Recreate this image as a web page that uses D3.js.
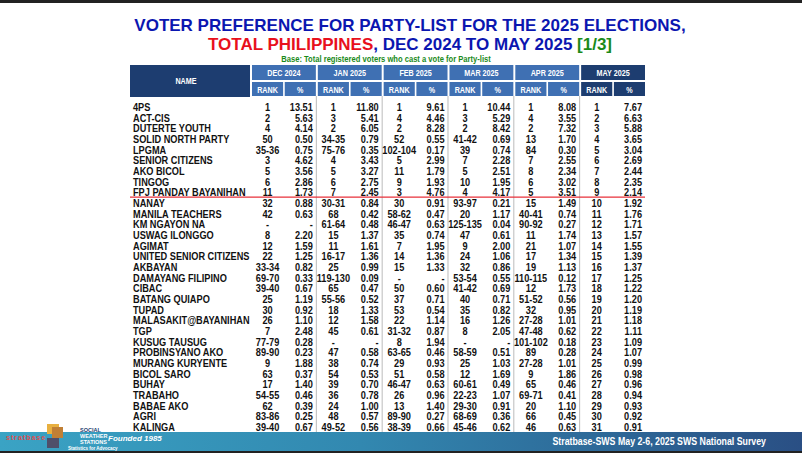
<!DOCTYPE html>
<html><head><meta charset="utf-8">
<script src="https://cdn.jsdelivr.net/npm/d3@7"></script>
<style>
body{margin:0;background:#fff;}
text{font-family:"Liberation Sans Narrow","Arial Narrow","Liberation Sans",sans-serif;font-weight:bold;}
</style></head>
<body><svg width="802" height="453"></svg>
<script>
const names = ["4PS","ACT-CIS","DUTERTE YOUTH","SOLID NORTH PARTY","LPGMA","SENIOR CITIZENS","AKO BICOL","TINGOG","FPJ PANDAY BAYANIHAN",
  "NANAY","MANILA TEACHERS","KM NGAYON NA","USWAG ILONGGO","AGIMAT","UNITED SENIOR CITIZENS","AKBAYAN","DAMAYANG FILIPINO",
  "CIBAC","BATANG QUIAPO","TUPAD","MALASAKIT@BAYANIHAN","TGP","KUSUG TAUSUG","PROBINSYANO AKO",
  "MURANG KURYENTE","BICOL SARO","BUHAY","TRABAHO","BABAE AKO","AGRI","KALINGA"];
const months = ["DEC 2024","JAN 2025","FEB 2025","MAR 2025","APR 2025","MAY 2025"];

const decRank = ["1","2","4","50","35-36","3","5","6","11","32","42","-","8","12","22","33-34","69-70","39-40","25","30","26","7","77-79","89-90","9","63","17","54-55","62","83-86","39-40"];
const decPct = ["13.51","5.63","4.14","0.50","0.75","4.62","3.56","2.86","1.73","0.88","0.63","-","2.20","1.59","1.25","0.82","0.33","0.67","1.19","0.92","1.10","2.48","0.28","0.23","1.88","0.37","1.40","0.46","0.39","0.25","0.67"];
const janRank = ["1","3","2","34-35","75-76","4","5","6","7","30-31","68","61-64","15","11","16-17","25","119-130","65","55-56","18","12","45","-","47","38","54","39","36","24","48","49-52"];
const janPct = ["11.80","5.41","6.05","0.79","0.35","3.43","3.27","2.75","2.45","0.84","0.42","0.48","1.37","1.61","1.36","0.99","0.09","0.47","0.52","1.33","1.58","0.61","-","0.58","0.74","0.53","0.70","0.78","1.00","0.57","0.56"];
const febRank = ["1","4","2","52","102-104","5","11","9","3","30","58-62","46-47","35","7","14","15","-","50","37","53","22","31-32","8","63-65","29","51","46-47","26","13","89-90","38-39"];
const febPct = ["9.61","4.46","8.28","0.55","0.17","2.99","1.79","1.93","4.76","0.91","0.47","0.63","0.74","1.95","1.36","1.33","-","0.60","0.71","0.54","1.14","0.87","1.94","0.46","0.93","0.58","0.63","0.96","1.40","0.27","0.66"];
const marRank = ["1","3","2","41-42","39","7","5","10","4","93-97","20","125-135","47","9","24","32","53-54","41-42","40","35","16","8","-","58-59","25","12","60-61","22-23","29-30","68-69","45-46"];
const marPct = ["10.44","5.29","8.42","0.69","0.74","2.28","2.51","1.95","4.17","0.21","1.17","0.04","0.61","2.00","1.06","0.86","0.55","0.69","0.71","0.82","1.26","2.05","-","0.51","1.03","1.69","0.49","1.07","0.91","0.36","0.62"];
const aprRank = ["1","4","2","13","84","7","8","6","5","15","40-41","90-92","11","21","17","19","110-115","12","51-52","32","27-28","47-48","101-102","89","27-28","9","65","69-71","20","66","46"];
const aprPct = ["8.08","3.55","7.32","1.70","0.30","2.55","2.34","3.02","3.51","1.49","0.74","0.27","1.74","1.07","1.34","1.13","0.12","1.73","0.56","0.95","1.01","0.62","0.18","0.28","1.01","1.86","0.46","0.41","1.10","0.45","0.63"];
const mayRank = d3.range(1, 32).map(String);
const mayPct = ["7.67","6.63","5.88","3.65","3.04","2.69","2.44","2.35","2.14","1.92","1.76","1.71","1.57","1.55","1.39","1.37","1.25","1.22","1.20","1.19","1.18","1.11","1.09","1.07","0.99","0.98","0.96","0.94","0.93","0.92","0.91"];

const ranks = [decRank, janRank, febRank, marRank, aprRank, mayRank];
const pcts = [decPct, janPct, febPct, marPct, aprPct, mayPct];

const svg = d3.select("svg");
const SX = 0.8; // horizontal squeeze to mimic a narrow font

svg.append("rect").attr("x", 0).attr("y", 0).attr("width", 802).attr("height", 3).attr("fill", "#222");

// Title
svg.append("text").attr("x", 410).attr("y", 31).attr("text-anchor", "middle")
  .style("font-family", "Liberation Sans, Arial, sans-serif").attr("font-size", 17).attr("fill", "#0b16b0")
  .text("VOTER PREFERENCE FOR PARTY-LIST FOR THE 2025 ELECTIONS,");
const t2 = svg.append("text").attr("x", 410).attr("y", 50).attr("text-anchor", "middle")
  .style("font-family", "Liberation Sans, Arial, sans-serif").attr("font-size", 17);
t2.append("tspan").attr("fill", "#e8101c").text("TOTAL PHILIPPINES");
t2.append("tspan").attr("fill", "#0b16b0").text(", DEC 2024 TO MAY 2025 ");
t2.append("tspan").attr("fill", "#1a8a1a").text("[1/3]");
svg.append("text").attr("transform", `translate(386,62) scale(${SX},1)`).attr("text-anchor", "middle")
  .attr("font-size", 9.5).attr("fill", "#1a8a1a").text("Base: Total registered voters who cast a vote for Party-list");

// Scales
const x = d3.scaleBand().domain(months).range([252, 645]).paddingInner(0.03);
const y = d3.scaleBand().domain(names).range([101.5, 432.5]);
const sub = d3.scaleBand().domain(["RANK", "%"]).range([0, x.bandwidth()]).paddingInner(0.05);

// Header
svg.append("rect").attr("x", 130).attr("y", 65).attr("width", 120).attr("height", 32).attr("fill", "#1d3d70");
svg.append("text").attr("transform", `translate(186,84) scale(${SX},1)`).attr("text-anchor", "middle")
  .attr("font-size", 9).attr("fill", "#fff").text("NAME");
const hg = svg.selectAll(".hdr").data(months).join("g").attr("transform", d => `translate(${x(d)},0)`);
hg.append("rect").attr("y", 65).attr("width", x.bandwidth()).attr("height", 15)
  .attr("fill", (d, i) => i === 5 ? "#1d3d70" : "#3f70b3");
hg.append("text").attr("transform", `translate(${x.bandwidth() / 2},76) scale(${SX},1)`).attr("text-anchor", "middle")
  .attr("font-size", 9).attr("fill", "#fff").text(d => d);
["RANK", "%"].forEach(s => {
  hg.append("rect").attr("x", sub(s)).attr("y", 82).attr("width", sub.bandwidth()).attr("height", 14)
    .attr("fill", (d, i) => i === 5 ? "#1d3d70" : "#3f70b3");
  hg.append("text").attr("transform", `translate(${sub(s) + sub.bandwidth() / 2},93) scale(${SX},1)`)
    .attr("text-anchor", "middle").attr("font-size", 9).attr("fill", "#fff").text(s);
});

// Separators
svg.selectAll(".sep").data(months.slice(1)).join("line")
  .attr("x1", d => x(d) - 1.5).attr("x2", d => x(d) - 1.5).attr("y1", 96).attr("y2", 432)
  .attr("stroke", "#bbb").attr("stroke-width", 1);

// Body
const fs = 11.5;
const rowY = i => y(names[i]) + y.bandwidth() / 2 + 4;
svg.append("g").selectAll("text").data(names).join("text")
  .attr("transform", (d, i) => `translate(133,${rowY(i)}) scale(${SX},1)`)
  .attr("font-size", fs).attr("fill", "#111").text(d => d);
months.forEach((m, mi) => {
  svg.append("g").selectAll("text").data(ranks[mi]).join("text")
    .attr("transform", (d, i) => `translate(${x(m) + sub("RANK") + sub.bandwidth() / 2},${rowY(i)}) scale(${SX},1)`)
    .attr("text-anchor", "middle").attr("font-size", fs).attr("fill", "#111").text(d => d);
  svg.append("g").selectAll("text").data(pcts[mi]).join("text")
    .attr("transform", (d, i) => `translate(${x(m) + sub("%") + sub.bandwidth() - 3},${rowY(i)}) scale(${SX},1)`)
    .attr("text-anchor", "end").attr("font-size", fs).attr("fill", "#111").text(d => d);
});

// Red cutoff line after row 9
svg.append("line").attr("x1", 130).attr("x2", 645)
  .attr("y1", y(names[9]) - 0.5).attr("y2", y(names[9]) - 0.5).attr("stroke", "#e8303a").attr("stroke-width", 1.3);

// Footer
const grad = svg.append("defs").append("linearGradient").attr("id", "fg");
grad.append("stop").attr("offset", "0%").attr("stop-color", "#3aa3c4");
grad.append("stop").attr("offset", "45%").attr("stop-color", "#3288b0");
grad.append("stop").attr("offset", "100%").attr("stop-color", "#2a4f84");
svg.append("rect").attr("x", 0).attr("y", 432).attr("width", 802).attr("height", 19).attr("fill", "url(#fg)");
svg.append("rect").attr("x", 0).attr("y", 451).attr("width", 802).attr("height", 2).attr("fill", "#222");
svg.append("rect").attr("x", 47).attr("y", 424).attr("width", 12).attr("height", 10).attr("fill", "#e8b040");
svg.append("rect").attr("x", 52).attr("y", 427).attr("width", 11).attr("height", 11).attr("fill", "#c07f35");
svg.append("rect").attr("x", 47).attr("y", 438).attr("width", 12).attr("height", 10).attr("fill", "#4f4f6a");
svg.append("text").attr("x", 6).attr("y", 440).attr("font-size", 7).attr("fill", "#e05050").attr("letter-spacing", 1).text("stratbase");
svg.append("text").attr("x", 80).attr("y", 432).attr("font-size", 5.5).attr("fill", "#1d3d70").text("SOCIAL");
svg.append("text").attr("x", 80).attr("y", 438).attr("font-size", 5.5).attr("fill", "#fff").text("WEATHER");
svg.append("text").attr("x", 80).attr("y", 444).attr("font-size", 5.5).attr("fill", "#fff").text("STATIONS");
svg.append("text").attr("x", 108).attr("y", 441).attr("font-size", 8).attr("font-style", "italic").attr("fill", "#fff").text("Founded 1985");
svg.append("text").attr("x", 68).attr("y", 450).attr("font-size", 4.5).attr("fill", "#fff").text("Statistics for Advocacy");
svg.append("text").attr("transform", `translate(766,445) scale(${SX},1)`).attr("text-anchor", "end").attr("font-size", 11)
  .attr("fill", "#fff").text("Stratbase-SWS May 2-6, 2025 SWS National Survey");
</script></body></html>
